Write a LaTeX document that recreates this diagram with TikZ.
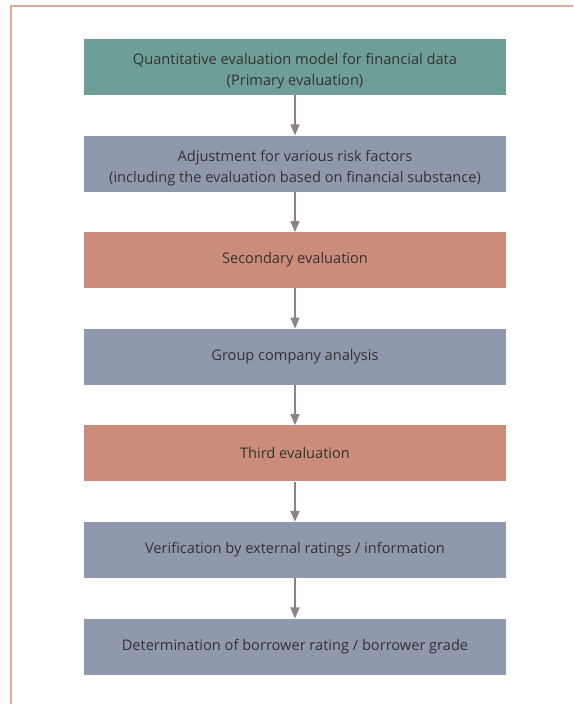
\documentclass[tikz,border=0pt]{standalone}
\usepackage{fontspec}
\setmainfont{Open Sans}
\usepackage{tikz}
\usetikzlibrary{positioning,arrows.meta}
\definecolor{framered}{HTML}{E0A898}
\definecolor{boxgreen}{HTML}{6E9E98}
\definecolor{boxblue}{HTML}{9098AE}
\definecolor{boxred}{HTML}{CC8C7A}
\definecolor{arrowgrey}{HTML}{8E808C}
\definecolor{textgrey}{HTML}{333333}
\newcommand{\toplift}{\rule{0pt}{20pt}}
\tikzset{
  stage/.style={minimum width=422pt, minimum height=56pt, inner sep=0pt,
    text=textgrey, align=center, font=\fontsize{14.6}{21.5}\selectfont},
  flow/.style={-{Triangle[width=9pt,length=11pt]}, line width=1.4pt, color=arrowgrey}
}

\begin{document}
\begin{tikzpicture}[x=1pt,y=-1pt]
\useasboundingbox (0,0) rectangle (573,704);
\draw[line width=2pt, color=framered] (10.5,704) -- (10.5,5.5) -- (573,5.5);
\node[stage, fill=boxgreen] (quant) at (295,67) {\toplift Quantitative evaluation model for financial data\\(Primary evaluation)};
\node[stage, fill=boxblue, below=40.2pt of quant] (adjust) {\toplift Adjustment for various risk factors\\(including the evaluation based on financial substance)};
\node[stage, fill=boxred, below=40.2pt of adjust] (second) {Secondary evaluation};
\node[stage, fill=boxblue, below=40.2pt of second] (group) {Group company analysis};
\node[stage, fill=boxred, below=40.2pt of group] (third) {Third evaluation};
\node[stage, fill=boxblue, below=40.2pt of third] (verify) {Verification by external ratings / information};
\node[stage, fill=boxblue, below=40.2pt of verify] (determ) {Determination of borrower rating / borrower grade};
\draw[flow] (quant) -- (adjust);
\draw[flow] (adjust) -- (second);
\draw[flow] (second) -- (group);
\draw[flow] (group) -- (third);
\draw[flow] (third) -- (verify);
\draw[flow] (verify) -- (determ);
\end{tikzpicture}
\end{document}
